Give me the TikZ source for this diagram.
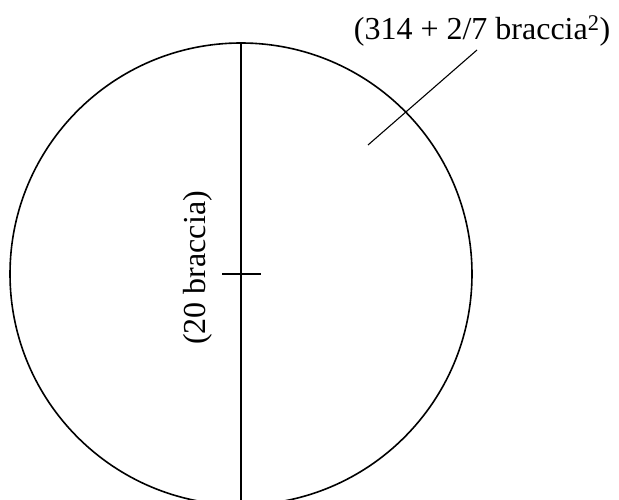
\documentclass[tikz,border=0pt]{standalone}
\usepackage{fontspec}
\setmainfont{Liberation Serif}
\begin{document}
\begin{tikzpicture}[x=1pt,y=1pt,
  lbl/.style={inner sep=0pt,font=\fontsize{32}{36}\selectfont}]
\useasboundingbox (0,0) rectangle (619,500);
\clip (0,0) rectangle (619,500);
\coordinate (c) at (241,226);
\coordinate (top) at (241,457);
\coordinate (bot) at (241,-5);
\draw[line width=1.6pt] (c) circle[radius=231];
\draw[line width=2.6pt] (top) -- (bot);
\coordinate (tl) at (222,226);
\coordinate (tr) at (261,226);
\draw[line width=2.2pt] (tl) -- (tr);
\node[lbl,rotate=90] (dia) at (198,232) {(20 braccia)};
\node[lbl] (area) at (482,469) {(314 + 2/7 braccia\textsuperscript{2})};
\coordinate (l1) at (368,355);
\coordinate (l2) at (477,450);
\draw[line width=1.1pt] (l1) -- (l2);
\end{tikzpicture}
\end{document}
